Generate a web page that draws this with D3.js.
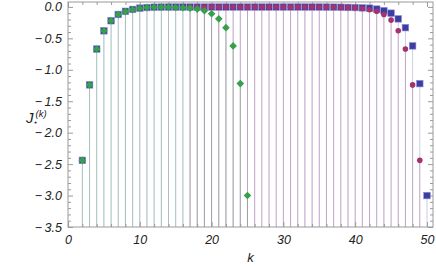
<!DOCTYPE html>
<html lang="en">
<head>
<meta charset="UTF-8">
<script src="https://d3js.org/d3.v7.min.js"></script>
<title>J star k</title>
<style>
  body { margin: 0; background: #fff; }
  svg text { font-family: "Liberation Sans", Arial, sans-serif; font-style: italic; }
</style>
</head>
<body>
<svg class="chart"></svg>
<script>
    // blue squares, k = 2..50
    let blueK = [2,3,4,5,6,7,8,9,10,11,12,13,14,15,16,17,18,19,20,21,22,23,24,25,26,
                 27,28,29,30,31,32,33,34,35,36,37,38,39,40,41,42,43,44,45,46,47,48,49,50];
    let blueVals = [-2.44,-1.24,-0.67,-0.38,-0.22,-0.12,-0.07,-0.04,-0.02,-0.01,-0.005,-0.003,-0.002,-0.002,-0.002,
                    -0.002,-0.002,-0.002,-0.002,-0.002,-0.002,-0.002,-0.002,-0.002,-0.002,-0.002,-0.002,-0.002,
                    -0.002,-0.002,-0.002,-0.002,-0.002,-0.002,-0.003,-0.004,-0.006,-0.008,-0.01,-0.015,-0.02,
                    -0.035,-0.06,-0.10,-0.19,-0.33,-0.62,-1.22,-3.0];

    // purple circles, k = 17..49
    let purpleK = [17,18,19,20,21,22,23,24,25,26,27,28,29,30,31,32,33,34,35,36,37,38,39,40,41,42,43,44,45,46,47,48,49];
    let purpleVals = [-0.002,-0.002,-0.002,-0.002,-0.002,-0.002,-0.002,-0.002,-0.002,-0.002,-0.002,-0.002,-0.002,
                      -0.002,-0.002,-0.002,-0.002,-0.002,-0.002,-0.003,-0.005,-0.007,-0.01,-0.015,-0.025,-0.045,
                      -0.07,-0.12,-0.21,-0.38,-0.67,-1.24,-2.44];

    // green diamonds, k = 2..25
    let greenK = [2,3,4,5,6,7,8,9,10,11,12,13,14,15,16,17,18,19,20,21,22,23,24,25];
    let greenVals = [-2.44,-1.24,-0.67,-0.38,-0.22,-0.12,-0.075,-0.045,-0.02,-0.01,-0.005,-0.004,-0.005,-0.008,
                     -0.012,-0.02,-0.035,-0.06,-0.11,-0.19,-0.33,-0.62,-1.22,-3.0];

    let xTicks = [0,10,20,30,40,50];
    let yTicks = [0,-0.5,-1,-1.5,-2,-2.5,-3,-3.5];

    let chartW = 436, chartH = 268;
    let plotL = 68, plotR = 433, plotT = 2, plotB = 227;

    let svg = d3.select('.chart').attr('width', chartW).attr('height', chartH);

    let x = d3.scaleLinear().domain([0, 50.84]).range([plotL, plotR]);
    let y = d3.scaleLinear().domain([-3.5, 0.078]).range([plotB, plotT]);

    let blue = '#3c3ca4', purple = '#a3326f', green = '#36a04a';
    let series = [
        {k: blueK, v: blueVals, color: blue},
        {k: purpleK, v: purpleVals, color: purple},
        {k: greenK, v: greenVals, color: green}
    ];

    // filling lines down to the bottom
    series.forEach(function (s) {
        svg.append('g').selectAll('line')
            .data(s.k)
            .enter()
            .append('line')
            .attr('x1', function (d) { return x(d); })
            .attr('x2', function (d) { return x(d); })
            .attr('y1', function (d, i) { return y(s.v[i]); })
            .attr('y2', y(-3.5))
            .style('stroke', s.color)
            .style('stroke-opacity', 0.26)
            .style('stroke-width', 1);
    });

    // frame + ticks
    let minorX = d3.range(0, 51, 2).filter(function (d) { return d % 10 !== 0; });
    let minorY = d3.range(-35, 1).map(function (d) { return d / 10; })
        .filter(function (d) { return Math.round(d * 10) % 5 !== 0; });
    let fmt = function (d) {
        return d < 0 ? '\u2212\u2009' + d3.format('.1f')(-d) : d3.format('.1f')(d);
    };

    function styleAxis(g) {
        g.select('.domain').remove();
        g.selectAll('line').style('stroke', '#9a9a9a');
        g.selectAll('text').style('fill', '#222').style('font-size', '12.5px');
    }

    svg.append('g').attr('transform', 'translate(0,' + plotB + ')')
        .call(d3.axisBottom(x).tickValues(xTicks).tickSize(-5).tickPadding(8).tickFormat(d3.format('d')))
        .call(styleAxis);
    svg.append('g').attr('transform', 'translate(0,' + plotB + ')')
        .call(d3.axisBottom(x).tickValues(minorX).tickSize(-3).tickFormat(''))
        .call(styleAxis);
    svg.append('g').attr('transform', 'translate(0,' + plotT + ')')
        .call(d3.axisTop(x).tickValues(xTicks).tickSize(-5).tickFormat(''))
        .call(styleAxis);
    svg.append('g').attr('transform', 'translate(0,' + plotT + ')')
        .call(d3.axisTop(x).tickValues(minorX).tickSize(-3).tickFormat(''))
        .call(styleAxis);

    svg.append('g').attr('transform', 'translate(' + plotL + ',0)')
        .call(d3.axisLeft(y).tickValues(yTicks).tickSize(-5).tickPadding(6).tickFormat(fmt))
        .call(styleAxis);
    svg.append('g').attr('transform', 'translate(' + plotL + ',0)')
        .call(d3.axisLeft(y).tickValues(minorY).tickSize(-3).tickFormat(''))
        .call(styleAxis);
    svg.append('g').attr('transform', 'translate(' + plotR + ',0)')
        .call(d3.axisRight(y).tickValues(yTicks).tickSize(-5).tickFormat(''))
        .call(styleAxis);
    svg.append('g').attr('transform', 'translate(' + plotR + ',0)')
        .call(d3.axisRight(y).tickValues(minorY).tickSize(-3).tickFormat(''))
        .call(styleAxis);

    svg.append('rect')
        .attr('x', plotL).attr('y', plotT)
        .attr('width', plotR - plotL).attr('height', plotB - plotT)
        .style('fill', 'none').style('stroke', '#9a9a9a').style('stroke-width', 1);

    // markers
    svg.append('g').selectAll('rect')
        .data(blueK)
        .enter()
        .append('rect')
        .attr('x', function (d) { return x(d) - 3.3; })
        .attr('y', function (d, i) { return y(blueVals[i]) - 3.3; })
        .attr('width', 6.6).attr('height', 6.6)
        .style('fill', blue).style('stroke', '#9090d4').style('stroke-width', 0.6);

    svg.append('g').selectAll('circle')
        .data(purpleK)
        .enter()
        .append('circle')
        .attr('cx', function (d) { return x(d); })
        .attr('cy', function (d, i) { return y(purpleVals[i]); })
        .attr('r', 2.8)
        .style('fill', purple);

    svg.append('g').selectAll('path')
        .data(greenK)
        .enter()
        .append('path')
        .attr('transform', function (d, i) { return 'translate(' + x(d) + ',' + y(greenVals[i]) + ')'; })
        .attr('d', 'M0,-3.8L3.8,0L0,3.8L-3.8,0Z')
        .style('fill', green);

    // axis titles
    svg.append('text').attr('x', (plotL + plotR) / 2).attr('y', 262)
        .attr('text-anchor', 'middle').style('font-size', '13px').style('fill', '#222').text('k');

    // J with star subscript and (k) superscript
    let ylab = svg.append('g').style('fill', '#222');
    ylab.append('text').attr('x', 26).attr('y', 123).style('font-size', '15px').text('J');
    ylab.append('text').attr('x', 33).attr('y', 125)
        .style('font-size', '7.5px').style('font-style', 'normal').text('\u22c6');
    ylab.append('text').attr('x', 35.5).attr('y', 117)
        .style('font-size', '9.5px').text('(k)');
</script>
</body>
</html>
